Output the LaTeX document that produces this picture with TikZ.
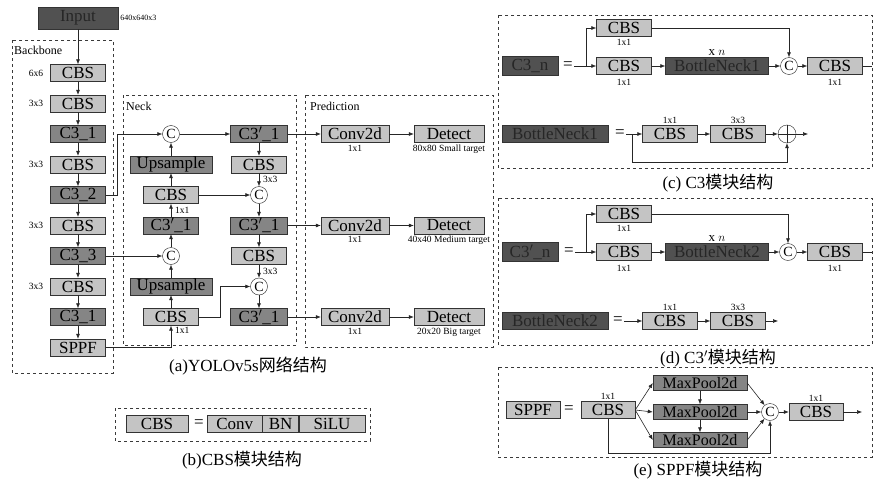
\documentclass[tikz,border=0pt]{standalone}
\usepackage{fontspec}
\setmainfont{Liberation Serif}
\newfontfamily\cjk{Noto Sans CJK SC}
\usetikzlibrary{arrows.meta,positioning,calc}
\definecolor{BoxLight}{HTML}{C4C4C4}
\definecolor{BoxMid}{HTML}{858585}
\definecolor{BoxDeep}{HTML}{515151}
\definecolor{FrameGray}{HTML}{3A3A3A}

\tikzset{
  blk/.style={draw=black!80,fill=BoxLight,minimum width=55pt,minimum height=17pt,inner sep=0pt,font=\fontsize{17}{17}\selectfont},
  mblk/.style={blk,fill=BoxMid},
  dblk/.style={blk,fill=BoxDeep,text=black!85},
  cat/.style={circle,draw=black!85,fill=white,minimum size=17pt,inner sep=0pt,font=\fontsize{14}{14}\selectfont},
  tag/.style={inner sep=1pt,font=\fontsize{9.5}{9.5}\selectfont},
  ttl/.style={inner sep=0pt,anchor=west,font=\fontsize{12}{12}\selectfont},
  capt/.style={inner sep=0pt,font=\fontsize{17}{17}\selectfont},
  eqsign/.style={inner sep=1pt,font=\fontsize{17}{17}\selectfont},
  frm/.style={draw=FrameGray,dashed,line width=.8pt},
  arr/.style={-{Latex[length=5pt,width=4pt]},line width=.6pt,black!85},
  ln/.style={line width=.6pt,black!85}
}

\begin{document}
\begin{tikzpicture}[x=1pt,y=-1pt]
\fill[white] (0,0) rectangle (873,479);
\useasboundingbox (0,0) rectangle (873,479);

% Backbone
\draw[frm] (12,40) rectangle (113,373);
\node[ttl] (bbt) at (14,50) {Backbone};
\node[dblk,minimum width=80pt,minimum height=22pt] (inp) at (78,18) {Input};
\node[tag,right=1pt of inp,font=\fontsize{8}{8}\selectfont] (inpsz) {640x640x3};
\foreach \i/\t/\s in {1/CBS/blk,2/CBS/blk,3/C3\_1/mblk,4/CBS/blk,5/C3\_2/mblk,6/CBS/blk,7/C3\_3/mblk,8/CBS/blk,9/C3\_1/mblk,10/SPPF/blk}
  \node[\s] (b\i) at (78,{42.5+30.5*\i}) {\t};
\foreach \i/\k in {1/6x6,2/3x3,4/3x3,6/3x3,8/3x3}
  \node[tag,left=6pt of b\i] {\k};
\draw[arr] (inp) -- (b1);
\foreach \i [evaluate=\i as \j using int(\i+1)] in {1,...,9}
  \draw[arr] (b\i) -- (b\j);

% Neck
\draw[frm] (123,95) rectangle (296,345);
\node[ttl] (neckt) at (126,106) {Neck};
\node[cat] (catA) at (171,134) {C};
\node[mblk,minimum width=82pt] (upA) at (171,164.5) {Upsample};
\node[blk] (cbsA) at (171,195) {CBS};
\node[mblk] (c3A) at (171,225.5) {C3$'$\_1};
\node[cat] (catB) at (171,256) {C};
\node[mblk,minimum width=82pt] (upB) at (171,286.5) {Upsample};
\node[blk] (cbsB) at (171,317) {CBS};
\node[mblk,minimum width=57pt] (c3R1) at (259,134) {C3$'$\_1};
\node[blk] (cbsR1) at (259,164.5) {CBS};
\node[cat] (catC) at (259,195) {C};
\node[mblk,minimum width=57pt] (c3R2) at (259,225.5) {C3$'$\_1};
\node[blk] (cbsR2) at (259,256) {CBS};
\node[cat] (catD) at (259,286.5) {C};
\node[mblk,minimum width=57pt] (c3R3) at (259,317) {C3$'$\_1};
\node[tag,anchor=west] at ($(cbsR1.south)!.5!(catC.north)+(3,0)$) {3x3};
\node[tag,anchor=west] at ($(cbsR2.south)!.5!(catD.north)+(3,0)$) {3x3};
\node[tag,anchor=west] at ($(c3A.north)!.5!(cbsA.south)+(3,0)$) {1x1};
\node[tag,anchor=north west] at ($(cbsB.south)+(3,0)$) {1x1};
\draw[arr] (b5.east) -- ++(12,0) |- (catA.west);
\draw[arr] (b7.east) -- (catB.west);
\draw[arr] (b10.east) -| (cbsB.south);
\draw[arr] (catA) -- (c3R1);
\draw[arr] (upA) -- (catA);
\draw[arr] (cbsA) -- (upA);
\draw[arr] (c3A) -- (cbsA);
\draw[arr] (catB) -- (c3A);
\draw[arr] (upB) -- (catB);
\draw[arr] (cbsB) -- (upB);
\draw[arr] (cbsA) -- (catC);
\draw[arr] (cbsB.east) -- ++(22,0) |- (catD.west);
\draw[arr] (c3R1) -- (cbsR1);
\draw[arr] (cbsR1) -- (catC);
\draw[arr] (catC) -- (c3R2);
\draw[arr] (c3R2) -- (cbsR2);
\draw[arr] (cbsR2) -- (catD);
\draw[arr] (catD) -- (c3R3);

% Prediction
\draw[frm] (305,95) rectangle (493,347);
\node[ttl] (predt) at (310,106) {Prediction};
\foreach \r/\y/\t in {1/134/80x80 Small target,2/225.5/40x40 Medium target,3/317/20x20 Big target}{
  \node[blk,minimum width=68pt] (cv\r) at (355,\y) {Conv2d};
  \node[blk,minimum width=70pt] (dt\r) at (449,\y) {Detect};
  \node[tag,below=1pt of cv\r] {1x1};
  \node[tag,below=1pt of dt\r] {\t};
  \draw[arr] (c3R\r) -- (cv\r);
  \draw[arr] (cv\r) -- (dt\r);
}
\node[capt] (capa) at (248,366) {(a)YOLOv5s{\cjk 网络结构}};

% CBS
\draw[frm] (115,408) rectangle (370,441);
\node[blk,minimum width=62pt] (cbsdef) at (157,424) {CBS};
\node[eqsign] (eqb) at (199,424) {=};
\node[blk,minimum width=55pt,anchor=west] (conv) at (207,424) {Conv};
\node[blk,minimum width=36pt,right=0pt of conv] (bn) {BN};
\node[blk,minimum width=66pt,right=0pt of bn] (silu) {SiLU};
\node[capt] (capb) at (242,460) {(b)CBS{\cjk 模块结构}};

% C3
\draw[frm] (498,15) rectangle (872,168);
\node[dblk,minimum width=56pt,minimum height=19pt] (c3n) at (530,66) {C3\_n};
\node[eqsign] (eqc1) at (568,66) {=};
\coordinate (sc1) at (586,66);
\node[blk] (cbsc1) at (624,28) {CBS};
\node[blk] (cbsc2) at (624,66) {CBS};
\node[dblk,minimum width=103pt] (bn1) at (717,66) {BottleNeck1};
\node[cat] (catc) at (789,66) {C};
\node[blk] (cbsc3) at (835,66) {CBS};
\coordinate (c3out) at (872,66);
\node[tag,below=1pt of cbsc1] {1x1};
\node[tag,below=3pt of cbsc2] {1x1};
\node[tag,below=3pt of cbsc3] {1x1};
\node[above=1pt of bn1,inner sep=1pt,font=\fontsize{13}{13}\selectfont] {x $n$};
\draw[arr] (eqc1.east) -- (cbsc2.west);
\draw[arr] (sc1) |- (cbsc1.west);
\draw[arr] (cbsc2) -- (bn1);
\draw[arr] (bn1) -- (catc);
\draw[arr] (cbsc1.east) -| (catc.north);
\draw[arr] (catc) -- (cbsc3);
\draw[ln] (cbsc3.east) -- (c3out);
\node[dblk,minimum width=106pt] (bn1def) at (555,134) {BottleNeck1};
\node[eqsign] (eqc2) at (620,134) {=};
\coordinate (sc2) at (632,134);
\node[blk] (cbsc4) at (670,134) {CBS};
\node[blk] (cbsc5) at (738,134) {CBS};
\node[tag,above=1pt of cbsc4] {1x1};
\node[tag,above=1pt of cbsc5] {3x3};
\node[circle,draw=black!85,fill=white,minimum size=18pt,inner sep=0pt] (addc) at (787,134) {};
\draw[ln] (addc.north) -- (addc.south) (addc.west) -- (addc.east);
\coordinate (addout) at (808,134);
\draw[arr] (eqc2.east) -- (cbsc4);
\draw[arr] (cbsc4) -- (cbsc5);
\draw[arr] (cbsc5) -- (addc);
\draw[arr] (addc) -- (addout);
\draw[arr] (sc2) -- ++(0,28) -| (addc.south);
\node[capt] (capc) at (718,183) {(c) C3{\cjk 模块结构}};

% C3'
\draw[frm] (498,198) rectangle (872,345);
\node[dblk,minimum width=56pt,minimum height=19pt] (c3pn) at (530,252) {C3$'$\_n};
\node[eqsign] (eqd1) at (569,252) {=};
\coordinate (sd1) at (586,252);
\node[blk] (cbsd1) at (624,214) {CBS};
\node[blk] (cbsd2) at (624,252) {CBS};
\node[dblk,minimum width=103pt] (bn2) at (717,252) {BottleNeck2};
\node[cat] (catd) at (788,252) {C};
\node[blk] (cbsd3) at (835,252) {CBS};
\coordinate (c3pout) at (872,252);
\node[tag,below=1pt of cbsd1] {1x1};
\node[tag,below=3pt of cbsd2] {1x1};
\node[tag,below=3pt of cbsd3] {1x1};
\node[above=1pt of bn2,inner sep=1pt,font=\fontsize{13}{13}\selectfont] {x $n$};
\draw[arr] (eqd1.east) -- (cbsd2.west);
\draw[arr] (sd1) |- (cbsd1.west);
\draw[arr] (cbsd2) -- (bn2);
\draw[arr] (bn2) -- (catd);
\draw[arr] (cbsd1.east) -| (catd.north);
\draw[arr] (catd) -- (cbsd3);
\draw[ln] (cbsd3.east) -- (c3pout);
\node[dblk,minimum width=106pt] (bn2def) at (555,321) {BottleNeck2};
\node[eqsign] (eqd2) at (618,321) {=};
\node[blk] (cbsd4) at (670,321) {CBS};
\node[blk] (cbsd5) at (738,321) {CBS};
\node[tag,above=1pt of cbsd4] {1x1};
\node[tag,above=1pt of cbsd5] {3x3};
\coordinate (bn2out) at (778,321);
\draw[arr] (eqd2.east) -- (cbsd4);
\draw[arr] (cbsd4) -- (cbsd5);
\draw[arr] (cbsd5) -- (bn2out);
\node[capt] (capd) at (718,358) {(d) C3$'${\cjk 模块结构}};

% SPPF
\draw[frm] (498,367) rectangle (872,457);
\node[blk,minimum width=54pt] (sppfdef) at (533,410) {SPPF};
\node[eqsign] (eqe) at (569,410) {=};
\node[blk,minimum width=54pt] (cbse1) at (608,410) {CBS};
\node[tag,above=1pt of cbse1] {1x1};
\foreach \m/\y in {1/383,2/412,3/440}
  \node[mblk,minimum width=94pt,minimum height=15pt,font=\fontsize{16}{16}\selectfont] (mp\m) at (700,\y) {MaxPool2d};
\node[cat] (cate) at (770,412) {C};
\node[blk,minimum width=54pt] (cbse2) at (816,412) {CBS};
\node[tag,above=1pt of cbse2] {1x1};
\coordinate (eout) at (862,412);
\foreach \m in {1,2,3}{
  \draw[arr] (cbse1.east) -- (mp\m.west);
  \draw[arr] (mp\m.east) -- (cate);
}
\draw[arr] (mp1) -- (mp2);
\draw[arr] (mp2) -- (mp3);
\draw[arr] (cbse1.south) -- ++(0,35) -| (cate.south);
\draw[arr] (cate) -- (cbse2);
\draw[arr] (cbse2) -- (eout);
\node[capt] (cape) at (698,470) {(e) SPPF{\cjk 模块结构}};
\end{tikzpicture}
\end{document}
